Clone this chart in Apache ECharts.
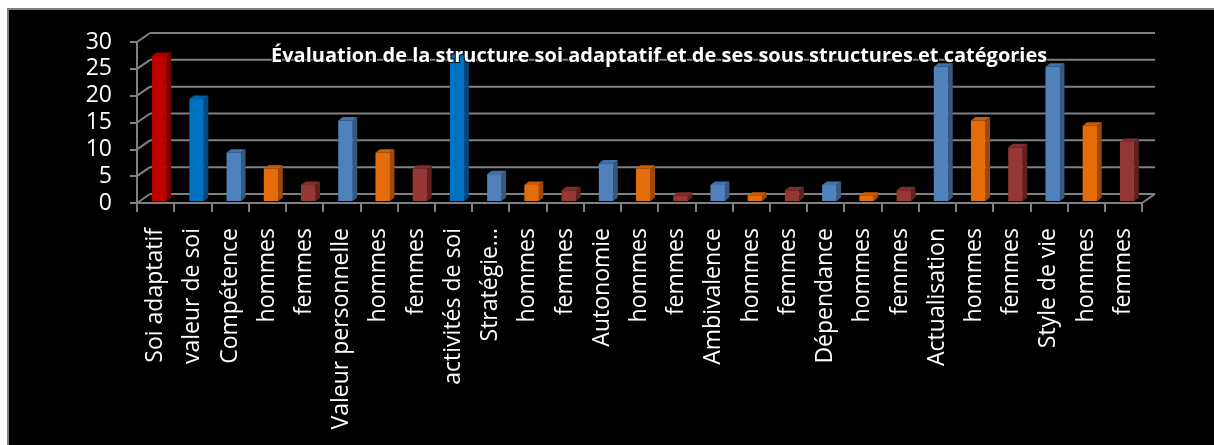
<!DOCTYPE html>
<html>
<head>
<meta charset="utf-8">
<script src="https://cdn.jsdelivr.net/npm/echarts@6/dist/echarts.min.js"></script>
<style>
html,body{margin:0;padding:0;background:#fff;}
#chart{width:1214px;height:445px;}
</style>
</head>
<body>
<div id="chart"></div>
<script>
// ---- data ----
var categories = ['Soi adaptatif','valeur de soi','Compétence','hommes','femmes','Valeur personnelle','hommes','femmes',
  'activités de soi','Stratégie...','hommes','femmes','Autonomie','hommes','femmes','Ambivalence','hommes','femmes',
  'Dépendance','hommes','femmes','Actualisation','hommes','femmes','Style de vie','hommes','femmes'];
var values = [27,19,9,6,3,15,9,6,27,5,3,2,7,6,1,3,1,2,3,1,2,25,15,10,25,14,11];
var rootCategory = 'Soi adaptatif';
var structureCategories = ['valeur de soi','activités de soi'];
var yTicks = [0,5,10,15,20,25,30];
var titleText = 'Évaluation de la structure soi adaptatif et de ses sous structures et catégories';

// ---- styles ----
var palette = {
  root:      {front:'#C00000', side:'#7A0000', top:'#A00000'},
  structure: {front:'#0070C0', side:'#004A80', top:'#0060A6'},
  sub:       {front:'#4F81BD', side:'#36597F', top:'#4470A6'},
  hommes:    {front:'#E46C0A', side:'#9E4A06', top:'#C85E08'},
  femmes:    {front:'#953735', side:'#5F2221', top:'#7E2E2C'}
};
function kindOf(name){
  if(name===rootCategory) return 'root';
  if(structureCategories.indexOf(name)>=0) return 'structure';
  if(name==='hommes') return 'hommes';
  if(name==='femmes') return 'femmes';
  return 'sub';
}
var DX = 13, DY = -9;           // depth offset of back wall
var GRID = '#808080';

var chart = echarts.init(document.getElementById('chart'), null, {renderer:'canvas'});

var option = {
  backgroundColor:'#fff',
  animation:false,
  graphic:[{
    type:'rect', z:-100, silent:true,
    shape:{x:8, y:9, width:1240, height:470},
    style:{fill:'#000', stroke:'#808080', lineWidth:2}
  }],
  title:{
    text:titleText,
    left:266, top:41,
    textStyle:{color:'#fff', fontFamily:'Open Sans', fontWeight:'bold', fontSize:20,
      textBorderColor:'#000', textBorderWidth:2}
  },
  grid:{left:137, right:72, top:42, bottom:242},
  xAxis:{
    type:'category', data:categories,
    axisLine:{show:true, lineStyle:{color:GRID, width:2}},
    axisTick:{show:true, length:9, lineStyle:{color:GRID, width:2}},
    axisLabel:{rotate:90, color:'#fff', fontFamily:'Open Sans', fontSize:23, margin:25, interval:0},
    splitLine:{show:false}
  },
  yAxis:{
    type:'value', min:0, max:30, interval:5,
    axisLine:{show:true, lineStyle:{color:GRID, width:2}},
    axisTick:{show:true, length:7, lineStyle:{color:GRID, width:2}},
    axisLabel:{color:'#fff', fontFamily:'Open Sans', fontSize:23, margin:25},
    splitLine:{show:false}
  },
  series:[
    {
      type:'custom', z:1, silent:true,
      data: yTicks.map(function(v){return [0, v];}),
      renderItem:function(params, api){
        var cs = params.coordSys;
        var y = api.coord([0, api.value(1)])[1];
        var x0 = cs.x, x1 = cs.x + cs.width;
        var children = [
          {type:'line', shape:{x1:x0+DX, y1:y+DY, x2:x1+DX, y2:y+DY}, style:{stroke:GRID, lineWidth:2}},
          {type:'line', shape:{x1:x0, y1:y, x2:x0+DX, y2:y+DY}, style:{stroke:GRID, lineWidth:2}}
        ];
        if(api.value(1)===0){
          children.push({type:'line', shape:{x1:x1, y1:y, x2:x1+DX, y2:y+DY}, style:{stroke:GRID, lineWidth:2}});
        }
        return {type:'group', children:children};
      }
    },
    {
      type:'custom', z:3,
      data: values.map(function(v,i){return [i, v];}),
      renderItem:function(params, api){
        var i = api.value(0), v = api.value(1);
        var top = api.coord([i, v]);
        var base = api.coord([i, 0]);
        var cx = top[0];
        var c = palette[kindOf(categories[i])];
        var l = cx-3.5, r = cx+11, yt = top[1]-2, yb = base[1]-2;
        var sdx = 4.5, sdy = -3.5;
        return {type:'group', children:[
          {type:'polygon', shape:{points:[[r,yb],[r+sdx,yb+sdy],[r+sdx,yt+sdy],[r,yt]]}, style:{fill:c.side}},
          {type:'polygon', shape:{points:[[l,yt],[l+sdx,yt+sdy],[r+sdx,yt+sdy],[r,yt]]}, style:{fill:c.top}},
          {type:'rect', shape:{x:l, y:yt, width:r-l, height:yb-yt}, style:{fill:c.front}}
        ]};
      }
    }
  ]
};
chart.setOption(option);
</script>
</body>
</html>
